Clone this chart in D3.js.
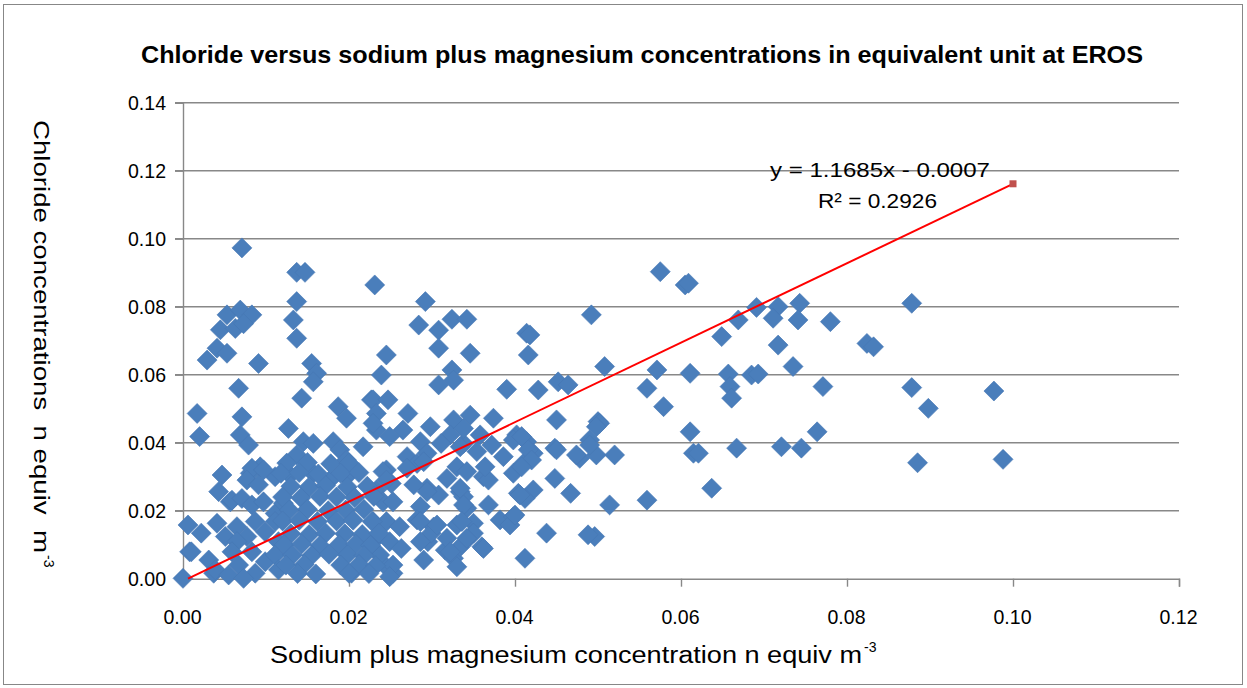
<!DOCTYPE html>
<html>
<head>
<meta charset="utf-8">
<script src="https://cdn.jsdelivr.net/npm/d3@7"></script>
<style>
  html, body { margin: 0; padding: 0; background: #fff; }
  svg { display: block; }
  text { font-family: "Liberation Sans", Arial, sans-serif; fill: #000; }
</style>
</head>
<body>
<svg id="chart" width="1247" height="688"></svg>
<script>
// Sodium + magnesium (x) and chloride (y), n equiv m^-3
const sodiumMagnesium = [
  0.0071,0.0137,0.0147,0.0137,0.0231,0.0053,0.0069,0.0083,0.0133,0.0045,0.0063,0.0073,0.0137,0.0041,0.0053,0.0029,0.0091,0.0155,0.0161,0.0157,
  0.0067,0.0143,0.0187,0.0227,0.0292,0.0284,0.0308,0.0324,0.0342,0.0414,0.0418,0.0245,0.0308,0.0346,0.0416,0.0239,0.0324,0.0308,0.0326,0.0390,
  0.0428,0.0452,0.0464,0.0229,0.0247,
  0.0575,0.0605,0.0609,0.0492,0.0691,0.0717,0.0743,0.0669,0.0711,0.0741,0.0780,0.0649,0.0717,0.0824,0.0832,0.0508,0.0571,0.0611,0.0657,0.0685,
  0.0693,0.0735,0.0559,0.0659,0.0771,0.0661,0.0579,0.0500,0.0502,0.0490,0.0478,0.0498,0.0520,0.0611,0.0615,0.0621,0.0667,0.0721,0.0745,0.0764,
  0.0514,0.0559,0.0637,0.0496,0.0878,0.0878,0.0898,0.0977,0.0885,0.0988,
  0.0233,0.0271,0.0298,0.0346,0.0374,0.0326,0.0450,0.0233,0.0265,0.0249,0.0322,0.0358,0.0402,0.0286,0.0311,0.0338,0.0372,0.0414,0.0448,0.0474,
  0.0270,0.0294,0.0354,0.0386,0.0422,0.0245,0.0282,0.0330,0.0342,0.0362,0.0398,0.0410,0.0448,0.0251,0.0294,0.0334,0.0368,0.0404,0.0422,0.0467,
  0.0233,0.0241,0.0286,0.0308,0.0342,0.0368,0.0412,0.0382,0.0398,0.0394,0.0350,0.0438,0.0488,0.0330,0.0282,0.0302,0.0360,0.0346,0.0316,0.0326,
  0.0330,0.0290,0.0295,0.0299,0.0412,0.0253,0.0241,
  0.0338,0.0498,0.0334,0.0398,0.0408,0.0416,0.0420,0.0450,0.0490,0.0364,0.0408,0.0406,0.0338,0.0400,0.0350,0.0362,0.0334,
  0.0241,0.0245,0.0253,0.0270,0.0290,0.0278,0.0294,0.0318,0.0334,0.0338,0.0229,0.0245,0.0261,0.0233,0.0249,0.0263,0.0237,0.0253,0.0249,0.0286,
  0.0286,0.0306,0.0318,0.0322,0.0336,0.0342,
  0.0017,0.0071,0.0197,0.0127,0.0229,0.0020,0.0069,0.0079,0.0145,0.0157,0.0181,0.0189,0.0217,0.0137,0.0197,0.0093,0.0047,0.0043,0.0081,0.0111,
  0.0129,0.0157,0.0177,0.0197,0.0057,0.0006,0.0022,0.0041,0.0008,0.0000,0.0031,0.0037,0.0203,
  0.0083,0.0097,0.0077,0.0091,0.0059,0.0071,0.0083,0.0097,0.0111,0.0121,0.0051,0.0065,0.0077,0.0065,0.0087,0.0099,0.0111,0.0115,0.0010,0.0039,
  0.0059,0.0067,0.0083,0.0087,0.0099,0.0111,0.0115,0.0055,0.0073,
  0.0125,0.0150,0.0178,0.0200,
  0.0118,0.0140,0.0163,0.0190,0.0212,
  0.0130,0.0152,0.0172,0.0198,0.0222,
  0.0120,0.0142,0.0165,0.0185,0.0207,0.0230,
  0.0128,0.0150,0.0175,0.0196,0.0218,
  0.0120,0.0140,0.0162,0.0185,0.0205,0.0228,
  0.0130,0.0152,0.0172,0.0195,0.0216,0.0236,
  0.0122,0.0143,0.0165,0.0188,0.0208,0.0226,
  0.0132,0.0155,0.0176,0.0198,0.0218,
  0.0124,0.0146,0.0190,0.0212,0.0232,
  0.0138,0.0160,0.0200,0.0224
];
const chloride = [
  0.0973,0.0901,0.0901,0.0815,0.0864,0.0776,0.0790,0.0776,0.0761,0.0732,0.0736,0.0750,0.0707,0.0678,0.0663,0.0643,0.0633,0.0633,0.0604,0.0579,
  0.0560,0.0531,0.0506,0.0526,0.0815,0.0746,0.0731,0.0763,0.0763,0.0722,0.0717,0.0658,0.0678,0.0663,0.0658,0.0599,0.0614,0.0570,0.0584,0.0557,
  0.0555,0.0579,0.0570,0.0526,0.0526,
  0.0903,0.0864,0.0869,0.0776,0.0798,0.0800,0.0810,0.0761,0.0766,0.0761,0.0756,0.0712,0.0687,0.0692,0.0682,0.0624,0.0614,0.0604,0.0602,0.0599,
  0.0602,0.0624,0.0560,0.0565,0.0565,0.0531,0.0506,0.0462,0.0457,0.0408,0.0354,0.0364,0.0364,0.0432,0.0369,0.0369,0.0384,0.0388,0.0384,0.0432,
  0.0217,0.0231,0.0266,0.0124,0.0810,0.0562,0.0501,0.0552,0.0341,0.0351,
  0.0486,0.0486,0.0447,0.0481,0.0472,0.0467,0.0467,0.0437,0.0437,0.0418,0.0423,0.0423,0.0423,0.0403,0.0398,0.0398,0.0393,0.0403,0.0384,0.0364,
  0.0359,0.0369,0.0374,0.0359,0.0369,0.0320,0.0339,0.0329,0.0315,0.0300,0.0310,0.0339,0.0295,0.0280,0.0266,0.0256,0.0290,0.0251,0.0261,0.0251,
  0.0261,0.0226,0.0212,0.0246,0.0207,0.0217,0.0236,0.0173,0.0182,0.0158,0.0163,0.0134,0.0129,0.0158,0.0173,0.0152,0.0094,0.0124,0.0084,0.0060,
  0.0035,0.0055,0.0109,0.0134,0.0060,0.0016,0.0045,
  0.0442,0.0447,0.0388,0.0408,0.0418,0.0379,0.0349,0.0379,0.0393,0.0329,0.0329,0.0246,0.0241,0.0187,0.0134,0.0089,0.0094,
  0.0315,0.0290,0.0226,0.0325,0.0344,0.0276,0.0256,0.0295,0.0266,0.0217,0.0168,0.0168,0.0153,0.0119,0.0109,0.0089,0.0070,0.0040,0.0006,0.0168,
  0.0109,0.0158,0.0119,0.0079,0.0168,0.0119,
  0.0486,0.0476,0.0472,0.0442,0.0457,0.0418,0.0423,0.0393,0.0403,0.0398,0.0403,0.0379,0.0388,0.0364,0.0349,0.0329,0.0305,0.0256,0.0310,0.0300,
  0.0305,0.0310,0.0290,0.0300,0.0226,0.0158,0.0134,0.0163,0.0079,0.0001,0.0055,0.0016,0.0016,
  0.0325,0.0320,0.0290,0.0276,0.0231,0.0236,0.0217,0.0226,0.0192,0.0222,0.0124,0.0153,0.0124,0.0109,0.0168,0.0138,0.0168,0.0109,0.0079,0.0026,
  0.0079,0.0040,0.0079,0.0016,0.0050,0.0070,0.0026,0.0011,0.0001,
  0.0340,0.0342,0.0338,0.0340,
  0.0310,0.0312,0.0308,0.0310,0.0312,
  0.0272,0.0270,0.0274,0.0270,0.0272,
  0.0240,0.0238,0.0242,0.0240,0.0238,0.0242,
  0.0202,0.0204,0.0200,0.0202,0.0204,
  0.0170,0.0172,0.0168,0.0170,0.0172,0.0168,
  0.0132,0.0130,0.0134,0.0132,0.0130,0.0134,
  0.0100,0.0102,0.0098,0.0100,0.0102,0.0098,
  0.0070,0.0068,0.0072,0.0070,0.0068,
  0.0040,0.0042,0.0040,0.0042,0.0038,
  0.0015,0.0014,0.0016,0.0015
];

const xTicks = [0, 0.02, 0.04, 0.06, 0.08, 0.10, 0.12];
const yTicks = [0, 0.02, 0.04, 0.06, 0.08, 0.10, 0.12, 0.14];

// Least-squares fit shown on the chart
const trendSlope = 1.1685;
const trendIntercept = -0.0007;
const trendRSquared = 0.2926;
const trendXRange = [0.0006, 0.10];

const svg = d3.select("#chart");

// chart frame
svg.append("rect")
  .attr("x", 3.5).attr("y", 4.5)
  .attr("width", 1239).attr("height", 680)
  .attr("fill", "#fff").attr("stroke", "#878787").attr("stroke-width", 1);

const x = d3.scaleLinear().domain([0, 0.12]).range([183, 1179]);
const y = d3.scaleLinear().domain([0, 0.14]).range([578.7, 102.7]);

// horizontal gridlines
svg.append("g").selectAll("line")
  .data(yTicks.filter(d => d > 0))
  .join("line")
  .attr("x1", 175).attr("x2", x(0.12))
  .attr("y1", d => y(d)).attr("y2", d => y(d))
  .attr("stroke", "#888").attr("stroke-width", 1.4);

const tickFont = sel => sel
  .style("font-family", "'Liberation Sans', Arial, sans-serif")
  .style("font-size", "21px")
  .attr("textLength", 38).attr("lengthAdjust", "spacingAndGlyphs")
  .attr("fill", "#000");

// y axis
const yAxis = svg.append("g")
  .attr("transform", `translate(${x(0)},0)`)
  .call(d3.axisLeft(y).tickValues(yTicks).tickFormat(d3.format(".2f")).tickSize(8).tickPadding(17));
yAxis.select(".domain").attr("stroke", "#888").attr("stroke-width", 1.4);
yAxis.selectAll(".tick line").attr("stroke", "#888").attr("stroke-width", 1.4);
yAxis.selectAll(".tick text").call(tickFont).attr("text-anchor", "start").attr("x", -55);

// x axis
const xAxis = svg.append("g")
  .attr("transform", `translate(0,${y(0)})`)
  .call(d3.axisBottom(x).tickValues(xTicks).tickFormat(d3.format(".2f")).tickSize(8).tickPadding(22));
xAxis.select(".domain").attr("stroke", "#888").attr("stroke-width", 1.4);
xAxis.selectAll(".tick line").attr("stroke", "#888").attr("stroke-width", 1.4);
xAxis.selectAll(".tick text").call(tickFont).attr("text-anchor", "start").attr("x", -20);

// scatter markers (diamonds)
const points = sodiumMagnesium.map((v, i) => ({ x: v, y: chloride[i] }));
const diamond = "M0,-10L10,0L0,10L-10,0Z";
svg.append("g").selectAll("path")
  .data(points)
  .join("path")
  .attr("d", diamond)
  .attr("transform", d => `translate(${x(d.x)},${y(d.y)})`)
  .attr("fill", "#4a7ebb")
  .attr("stroke", "#4677b4")
  .attr("stroke-width", 0.6);

// linear trend line
const trend = trendXRange.map(v => ({ x: v, y: trendSlope * v + trendIntercept }));
svg.append("path")
  .datum(trend)
  .attr("d", d3.line().x(d => x(d.x)).y(d => y(d.y)))
  .attr("fill", "none").attr("stroke", "#ff0000").attr("stroke-width", 2);
const trendEnd = trend[trend.length - 1];
svg.append("rect")
  .attr("x", x(trendEnd.x) - 3.5).attr("y", y(trendEnd.y) - 3.5)
  .attr("width", 7).attr("height", 7)
  .attr("fill", "#c0504d");

// equation label
svg.append("text")
  .attr("x", 770).attr("y", 177)
  .attr("textLength", 220).attr("lengthAdjust", "spacingAndGlyphs")
  .style("font-size", "21px")
  .text(`y = ${trendSlope}x - ${Math.abs(trendIntercept).toFixed(4)}`);
svg.append("text")
  .attr("x", 818).attr("y", 208)
  .attr("textLength", 119).attr("lengthAdjust", "spacingAndGlyphs")
  .style("font-size", "21px")
  .text(`R² = ${trendRSquared}`);

// title
svg.append("text")
  .attr("x", 141).attr("y", 63)
  .attr("textLength", 1002).attr("lengthAdjust", "spacingAndGlyphs")
  .style("font-size", "24px").style("font-weight", "bold")
  .text("Chloride versus sodium plus magnesium concentrations in equivalent unit at EROS");

// x axis title with superscript unit
svg.append("text")
  .attr("x", 270).attr("y", 663)
  .attr("textLength", 592).attr("lengthAdjust", "spacingAndGlyphs")
  .style("font-size", "23px")
  .text("Sodium plus magnesium concentration n equiv m");
svg.append("text")
  .attr("x", 270 + 594).attr("y", 652)
  .style("font-size", "14px")
  .text("-3");

// y axis title, reading top to bottom
const yTitle = svg.append("g").attr("transform", "translate(34,120) rotate(90)");
yTitle.append("text")
  .attr("x", 0).attr("y", 0)
  .attr("textLength", 433).attr("lengthAdjust", "spacingAndGlyphs")
  .style("font-size", "22px")
  .style("white-space", "pre")
  .text("Chloride concentrations  n equiv  m");
yTitle.append("text")
  .attr("x", 435).attr("y", -10)
  .style("font-size", "14px")
  .text("-3");
</script>
</body>
</html>
